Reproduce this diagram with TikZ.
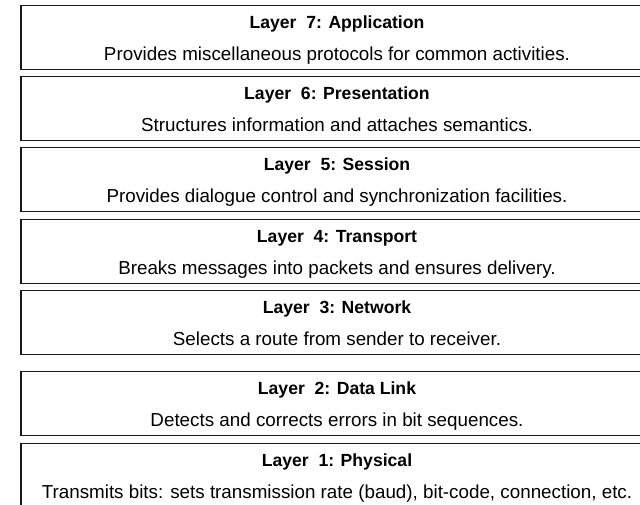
\documentclass[tikz,border=0pt]{standalone}
\usepackage{fontspec}
\setmainfont{Liberation Sans}
\begin{document}
\begin{tikzpicture}[x=1pt,y=-1pt,
  layerbox/.style={draw=black!90, line width=1.3pt, fill=white,
    minimum width=632pt, minimum height=64pt, inner sep=0pt, anchor=north},
  layertitle/.style={anchor=base, inner sep=0pt,
    font=\fontsize{17.6}{20}\selectfont\bfseries},
  layerdesc/.style={anchor=base, inner sep=0pt,
    font=\fontsize{18.8}{21}\selectfont}]
\useasboundingbox (0,0) rectangle (640,504);
\clip (0,0) rectangle (640,504);
% one layer: name, top edge, title, description
\foreach \n/\top/\ttl/\dsc in {
  l7/5/{Layer\ \ 7: Application}/{Provides miscellaneous protocols for common activities.},
  l6/76/{Layer\ \ 6: Presentation}/{Structures information and attaches semantics.},
  l5/147/{Layer\ \ 5: Session}/{Provides dialogue control and synchronization facilities.},
  l4/219/{Layer\ \ 4: Transport}/{Breaks messages into packets and ensures delivery.},
  l3/290/{Layer\ \ 3: Network}/{Selects a route from sender to receiver.},
  l2/371/{Layer\ \ 2: Data Link}/{Detects and corrects errors in bit sequences.},
  l1/443/{Layer\ \ 1: Physical}/{Transmits bits: sets transmission rate (baud), bit-code, connection, etc.}}{
  \node[layerbox] (\n) at (337,\top) {};
  \node[layertitle] (\n title) at ([yshift=-23pt]\n.north) {\ttl};
  \node[layerdesc] (\n desc) at ([yshift=-55pt]\n.north) {\dsc};
}
\end{tikzpicture}
\end{document}
